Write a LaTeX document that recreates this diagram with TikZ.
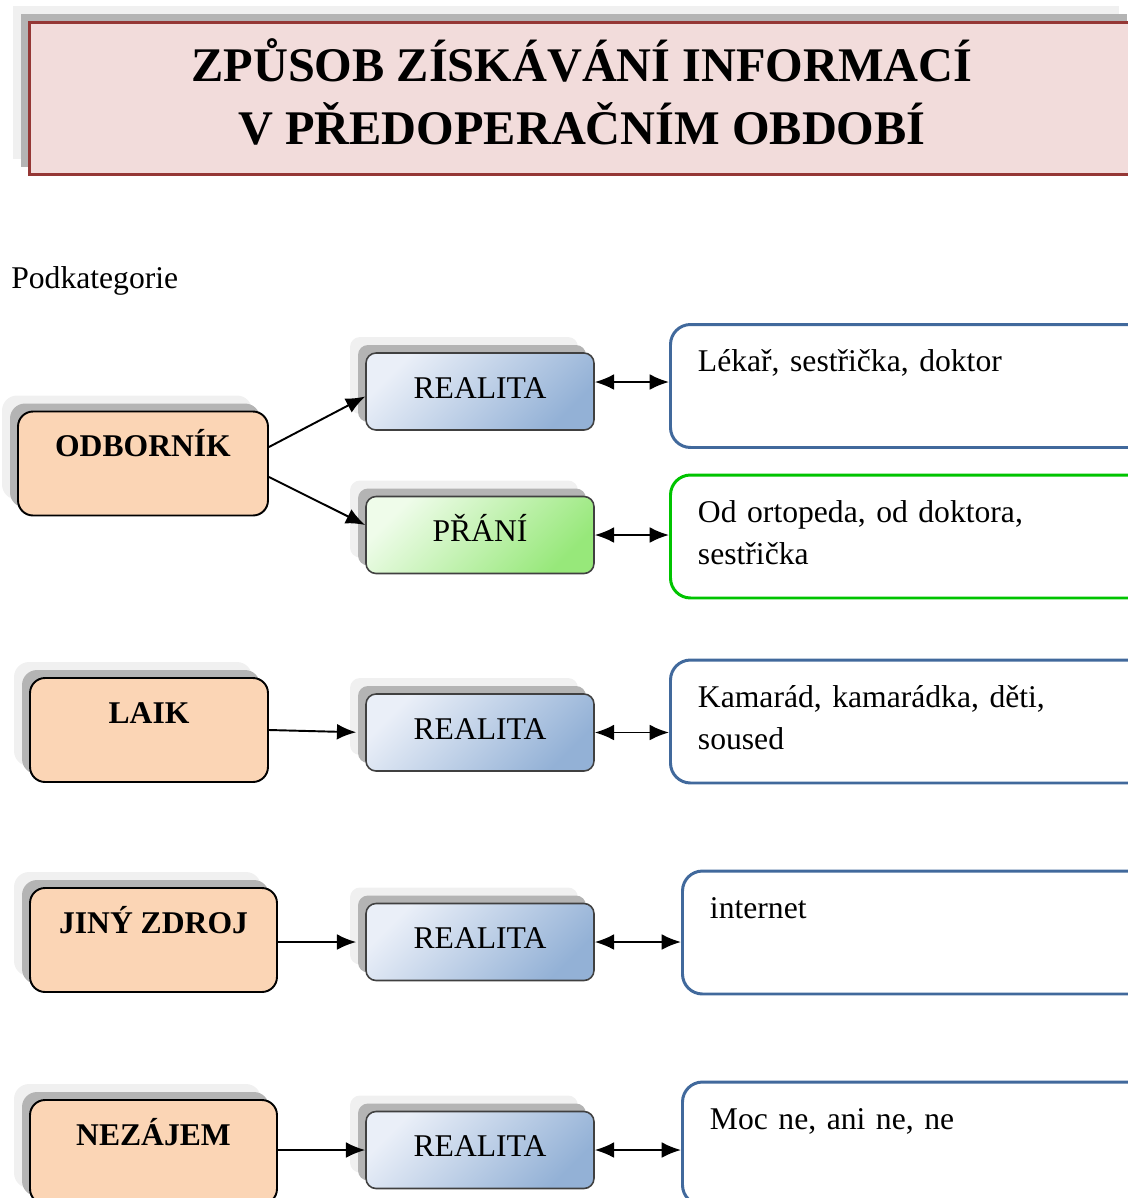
\documentclass[tikz,border=0pt]{standalone}
\usepackage{fontspec}
\setmainfont{Liberation Serif}
\usetikzlibrary{shadows,arrows.meta}

\definecolor{titlefill}{HTML}{F2DCDB}
\definecolor{titleline}{HTML}{953735}
\definecolor{catfill}{HTML}{FBD5B5}
\definecolor{shadowlight}{HTML}{F0F0F0}
\definecolor{shadowdark}{HTML}{B4B4B4}
\definecolor{realline}{HTML}{404040}
\definecolor{reallight}{HTML}{EAEFF8}
\definecolor{realdark}{HTML}{93B1D6}
\definecolor{wishlight}{HTML}{EFFCEA}
\definecolor{wishdark}{HTML}{97E87A}
\definecolor{infoblue}{HTML}{41699C}
\definecolor{infogreen}{HTML}{00C400}

\tikzset{
  shadowed/.style={general shadow={fill=shadowlight, shadow xshift=-0.32cm, shadow yshift=0.32cm},
    general shadow={fill=shadowdark, shadow xshift=-0.16cm, shadow yshift=0.16cm}},
  titlebox/.style={shadowed, draw=titleline, line width=1.7pt, fill=titlefill, minimum width=22.12cm,
    minimum height=3.06cm, inner ysep=0pt, align=center, text depth=0.28cm,
    font=\fontsize{27.5}{36}\selectfont\bfseries},
  catbox/.style={shadowed, draw=black, line width=1.1pt, fill=catfill, rounded corners=0.3cm,
    inner ysep=0pt, text height=0.9cm, text depth=1.18cm, font=\fontsize{18}{24}\selectfont\bfseries},
  realbox/.style={shadowed, draw=realline, line width=0.9pt, rounded corners=0.2cm, minimum width=4.56cm,
    minimum height=1.54cm, text height=0.46cm, text depth=0.2cm, top color=reallight, bottom color=realdark,
    shading angle=45, font=\fontsize{18}{24}\selectfont},
  wishbox/.style={realbox, top color=wishlight, bottom color=wishdark, shading angle=45},
  infobox/.style={draw=infoblue, line width=1.7pt, rounded corners=0.4cm, fill=white, anchor=west,
    minimum width=9.8cm, text width=8.7cm, inner xsep=0.5cm, inner ysep=0pt, align=left,
    text height=0.94cm, text depth=1.52cm, font=\fontsize{18}{24}\selectfont},
  link/.style={-{Latex[length=11pt,width=9pt]}, line width=1.1pt},
  duallink/.style={{Latex[length=11pt,width=9pt]}-{Latex[length=11pt,width=9pt]}, line width=1.1pt},
}

\begin{document}
\begin{tikzpicture}[x=0.02cm, y=-0.02cm]
  \useasboundingbox (0,0) rectangle (1128,1198);
  \clip (0,0) rectangle (1128,1198);

  \node[titlebox] (title) at (582,98.5) {ZPŮSOB ZÍSKÁVÁNÍ INFORMACÍ\\V PŘEDOPERAČNÍM OBDOBÍ};
  \node[anchor=base west, inner sep=0pt, font=\fontsize{18}{24}\selectfont] (sub) at (11,288) {Podkategorie};

  \node[catbox, minimum width=5cm] (odb) at (143,463.5) {ODBORNÍK};
  \node[catbox, minimum width=4.76cm] (laik) at (149,730) {LAIK};
  \node[catbox, minimum width=4.94cm] (jiny) at (153.5,940) {JINÝ ZDROJ};
  \node[catbox, minimum width=4.94cm] (nez) at (153.5,1152) {NEZÁJEM};

  \node[realbox] (r1) at (480,391.5) {REALITA};
  \node[wishbox] (w1) at (480,535) {PŘÁNÍ};
  \node[realbox] (r3) at (480,732.5) {REALITA};
  \node[realbox] (r4) at (480,942) {REALITA};
  \node[realbox] (r5) at (480,1150) {REALITA};

  \node[infobox] (i1) at (669,386) {Lékař, sestřička, doktor};
  \node[infobox, draw=infogreen] (i2) at (669,536.5) {Od ortopeda, od doktora,\\sestřička};
  \node[infobox] (i3) at (669,721.5) {Kamarád, kamarádka, děti,\\soused};
  \node[infobox] (i4) at (681,932.5) {internet};
  \node[infobox] (i5) at (681,1143.5) {Moc ne, ani ne, ne};

  \draw[link] ([yshift=0.33cm]odb.east) -- ([yshift=-0.1cm]r1.west);
  \draw[link] ([yshift=-0.27cm]odb.east) -- ([yshift=0.2cm]w1.west);
  \draw[link, shorten >=0.18cm] (laik.east) -- (r3.west);
  \draw[link, shorten >=0.18cm] (jiny.east |- r4.west) -- (r4.west);
  \draw[link] (nez.east |- r5.west) -- (r5.west);

  \draw[duallink] ([yshift=0.19cm]r1.east) -- ([yshift=0.19cm]r1.east -| i1.west);
  \draw[duallink] (w1.east) -- (w1.east -| i2.west);
  \draw[duallink] (r3.east) -- (r3.east -| i3.west);
  \draw[duallink] (r4.east) -- (r4.east -| i4.west);
  \draw[duallink] (r5.east) -- (r5.east -| i5.west);
\end{tikzpicture}
\end{document}
